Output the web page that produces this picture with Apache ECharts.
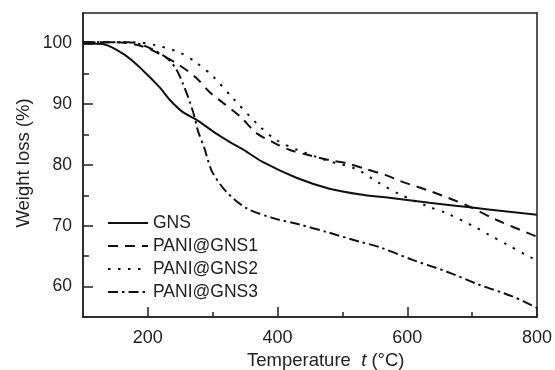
<!DOCTYPE html>
<html>
<head>
<meta charset="utf-8">
<script src="https://cdn.jsdelivr.net/npm/echarts@6/dist/echarts.min.js"></script>
<style>html,body{margin:0;padding:0;background:#fff;}#c{width:555px;height:370px;}</style>
</head>
<body>
<div id="c"></div>
<script>
const seriesNames = ['GNS', 'PANI@GNS1', 'PANI@GNS2', 'PANI@GNS3'];
const gnsT = [100,130,166,192,218,234,254,274,305,326,346,377,429,480,531,572,634,700,750,800];
const gnsW = [100,99.9,98.0,95.6,92.8,90.7,88.7,87.5,85.2,83.8,82.6,80.5,77.9,76.1,75.1,74.6,73.8,73.0,72.4,71.8];
const p1T = [100,150,192,223,249,274,295,315,342,368,392,418,449,480,506,537,568,588,638,691,737,800];
const p1W = [100.2,100.2,99.5,98.0,96.4,94.4,92.0,90.3,88.0,85.2,83.8,82.5,81.6,80.8,80.3,79.3,78.3,77.4,75.6,73.4,71.0,68.2];
const p2T = [100,180,212,249,274,300,331,372,398,430,480,520,557,588,634,660,706,726,754,783,800];
const p2W = [100.2,100.2,99.7,98.5,96.9,94.6,91.0,86.4,84.1,82.5,80.6,79.4,77.0,75.2,73.1,72.1,69.7,68.5,66.9,65.2,64.3];
const p3T = [100,170,197,228,243,254,265,272,277,288,292,300,321,352,392,434,475,526,557,608,660,711,762,800];
const p3W = [100.2,100.2,99.5,97.7,95.9,93.4,90.3,87.9,85.7,82.5,81.0,78.7,75.6,72.9,71.3,70.2,69.0,67.4,66.5,64.4,62.5,60.3,58.4,56.5];
const xMajor = [200, 400, 600, 800];
const xMinor = [300, 500, 700];
const yMajor = [60, 70, 80, 90, 100];
const yMinor = [65, 75, 85, 95];

const dashTypes = ['solid', [10, 7], [2.5, 7.5], [10, 4, 2.5, 4]];
const allT = [gnsT, p1T, p2T, p3T];
const allW = [gnsW, p1W, p2W, p3W];
const txt = '#222';
const font = '"Liberation Sans", Arial, sans-serif';

const chart = echarts.init(document.getElementById('c'), null, {renderer: 'canvas'});
const axisLine = {show: true, lineStyle: {color: '#222', width: 1.5}};
chart.setOption({
  animation: false,
  backgroundColor: '#fff',
  textStyle: {fontFamily: font},
  grid: {left: 83, right: 16, top: 13, bottom: 53, containLabel: false},
  legend: {
    orient: 'vertical', left: 107, top: 214, padding: 0, itemWidth: 40, itemHeight: 14, itemGap: 5,
    itemStyle: {color: 'rgba(0,0,0,0)', borderWidth: 0, opacity: 0},
    textStyle: {fontSize: 17.5, color: txt, fontFamily: font},
    data: seriesNames
  },
  xAxis: [
    {type: 'value', min: 100, max: 800, position: 'bottom', axisLine: axisLine,
     splitLine: {show: false},
     axisTick: {show: true, inside: true, length: 10, customValues: xMajor, lineStyle: {color: '#222', width: 1.5}},
     axisLabel: {customValues: xMajor, fontSize: 18, color: txt, margin: 12, fontFamily: font}},
    {type: 'value', min: 100, max: 800, position: 'bottom', axisLine: axisLine,
     splitLine: {show: false},
     axisTick: {show: true, inside: true, length: 5, customValues: xMinor, lineStyle: {color: '#222', width: 1.5}},
     axisLabel: {show: false}},
    {type: 'value', min: 100, max: 800, position: 'top', axisLine: axisLine,
     splitLine: {show: false}, axisTick: {show: false}, axisLabel: {show: false}}
  ],
  yAxis: [
    {type: 'value', min: 55, max: 105, position: 'left', axisLine: axisLine,
     splitLine: {show: false},
     axisTick: {show: true, inside: true, length: 10, customValues: yMajor, lineStyle: {color: '#222', width: 1.5}},
     axisLabel: {customValues: yMajor, fontSize: 17.5, color: txt, margin: 11, fontFamily: font}},
    {type: 'value', min: 55, max: 105, position: 'left', axisLine: axisLine,
     splitLine: {show: false},
     axisTick: {show: true, inside: true, length: 6, customValues: yMinor, lineStyle: {color: '#222', width: 1.5}},
     axisLabel: {show: false}},
    {type: 'value', min: 55, max: 105, position: 'right', axisLine: axisLine,
     splitLine: {show: false}, axisTick: {show: false}, axisLabel: {show: false}}
  ],
  graphic: [
    {type: 'text', left: 247, top: 351, style: {
      text: '{a|Temperature  }{b|t}{a| (°C)}',
      rich: {a: {fontSize: 18.5, fill: txt, fontFamily: font}, b: {fontSize: 18.5, fill: txt, fontStyle: 'italic', fontFamily: font}}
    }},
    {type: 'text', x: 24, y: 163, rotation: Math.PI / 2, style: {
      text: 'Weight loss (%)', fontSize: 18.5, fill: txt, fontFamily: font, align: 'center', verticalAlign: 'middle'
    }}
  ],
  series: seriesNames.map((n, i) => ({
    name: n, type: 'line', xAxisIndex: 0, yAxisIndex: 0,
    symbol: 'none', smooth: 0.3,
    lineStyle: {color: '#111', width: 2, type: dashTypes[i]},
    itemStyle: {color: '#111'},
    data: allT[i].map((t, k) => [t, allW[i][k]])
  }))
});
</script>
</body>
</html>
